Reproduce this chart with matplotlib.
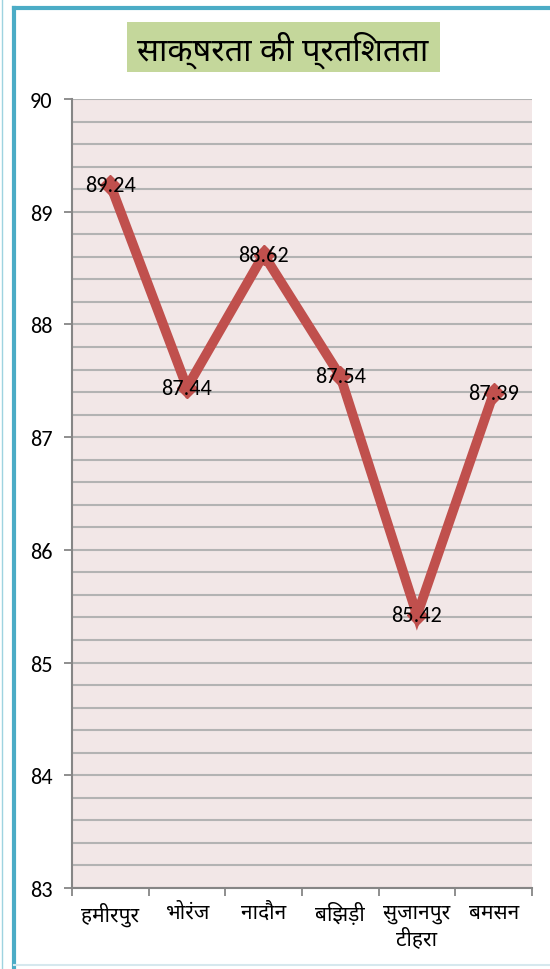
import matplotlib
matplotlib.use('Agg')
import matplotlib.pyplot as plt
from matplotlib.ticker import MultipleLocator
from matplotlib.patches import Rectangle
from matplotlib.lines import Line2D

# data
places = ['हमीरपुर', 'भोरंज', 'नादौन', 'बिझड़ी', 'सुजानपुर\nटीहरा', 'बमसन']
literacy = [89.24, 87.44, 88.62, 87.54, 85.42, 87.39]
title = 'साक्षरता की प्रतिशतता'

num_font = ['Carlito', 'Noto Sans', 'DejaVu Sans']
hin_font = ['Noto Sans Devanagari', 'DejaVu Sans']

red = '#C0504D'

fig = plt.figure(figsize=(5.5, 9.7), dpi=100)
ax = fig.add_axes([72/550, 1-889/970, (532-72)/550, (889-100)/970])
ax.set_facecolor('#F2E7E7')

xs = list(range(len(places)))
ax.plot(xs, literacy, color=red, lw=7, marker='D', markersize=10,
        solid_joinstyle='miter', zorder=3)
for x, v in zip(xs, literacy):
    ax.text(x, v, '{:.2f}'.format(v), ha='center', va='center',
            fontsize=16, family=num_font, zorder=4)

ax.set_xlim(-0.5, len(places)-0.5)
ax.set_ylim(83, 90)
ax.yaxis.set_major_locator(MultipleLocator(1))
ax.yaxis.set_minor_locator(MultipleLocator(0.2))
ax.grid(which='both', axis='y', color='#B3B3B3', lw=1.5, zorder=1)
ax.set_axisbelow(True)

# category ticks between points
ax.set_xticks([x-0.5 for x in xs] + [len(places)-0.5])
ax.set_xticklabels([])
ax.set_xticks(xs, minor=True)
ax.set_xticklabels(places, minor=True, fontsize=15, family=hin_font,
                   linespacing=1.25, va='top')
ax.tick_params(axis='x', which='minor', length=0, pad=10)
ax.tick_params(axis='x', which='major', length=6, width=1.3, color='#868686')
ax.tick_params(axis='y', which='major', length=6, width=1.3, color='#868686',
               labelsize=16, pad=8)
ax.tick_params(axis='y', which='minor', length=0)
for lab in ax.get_yticklabels():
    lab.set_family(num_font)

for s in ['top', 'right']:
    ax.spines[s].set_visible(False)
for s in ['left', 'bottom']:
    ax.spines[s].set_color('#868686')
    ax.spines[s].set_linewidth(1.5)

# title with green box
fig.add_artist(Rectangle((127/550, 1-73/970), (440-127)/550, 50/970,
                         transform=fig.transFigure, fc='#C4D79B', ec='none'))
fig.text(283/550, 1-50/970, title, ha='center', va='center', fontsize=23.5,
         family=hin_font)

# outer frame lines
fig.add_artist(Line2D([14/550, 14/550], [0, 1-9/970], color='#4BACC6', lw=3,
                      transform=fig.transFigure))
fig.add_artist(Line2D([14/550, 1], [1-9/970, 1-9/970], color='#4BACC6', lw=3,
                      transform=fig.transFigure))
fig.add_artist(Line2D([2/550, 2/550], [0, 1], color='#9ED3E0', lw=1,
                      transform=fig.transFigure))
fig.add_artist(Line2D([14/550, 1], [4/970, 4/970], color='#D6E8EE', lw=1.5,
                      transform=fig.transFigure))

fig.savefig('out.png', dpi=100)
plt.close('all')
